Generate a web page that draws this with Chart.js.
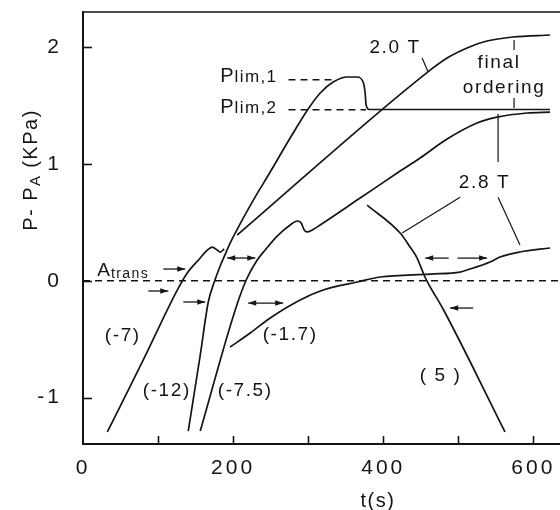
<!DOCTYPE html>
<html><head><meta charset="utf-8">
<script src="https://cdn.jsdelivr.net/npm/chart.js@4.4.1/dist/chart.umd.min.js"></script>
<style>html,body{margin:0;padding:0;background:#fff}canvas{display:block}</style>
</head><body>
<canvas id="c" width="560" height="510"></canvas>
<script>
// ---------- data (t in s, P-PA in kPa) ----------
const xTickValues = [0, 200, 400, 600];
const xTickMarks  = [100, 200, 300, 400, 500, 600];
const yTickValues = [-1, 0, 1, 2];

// (-7)
const rate7T = [32.4, 80.3, 125.6, 138.9, 156.2, 165.5, 172.2, 178.8, 182.8, 188.1];
const rate7P = [-1.294, -0.678, -0.080, 0.066, 0.194, 0.262, 0.288, 0.262, 0.245, 0.271];
// (-12) rising to Plim,1 then dropping to Plim,2
const rate12T = [140.2, 156.2, 166.9, 174.9, 182.8, 190.8, 198.8, 225.4, 249.4, 276.0, 300.0, 316.0, 333.3, 352.0, 365.3, 373.2, 375.9, 377.2, 381.2, 622.2];
const rate12P = [-1.286, -0.636, -0.182, -0.011, 0.126, 0.246, 0.357, 0.673, 0.930, 1.221, 1.469, 1.606, 1.700, 1.743, 1.743, 1.700, 1.606, 1.503, 1.465, 1.465];
// (-7.5) continuing as the 2.8 T curve
const rate75T = [156.2, 202.8, 217.4, 232.1, 242.7, 258.7, 276.0, 285.3, 290.7, 294.7, 298.7, 305.4, 316.0, 369.2, 422.5, 449.1, 485.1, 525.0, 551.7, 591.6, 622.2];
const rate75P = [-1.286, -0.250, 0.006, 0.177, 0.263, 0.382, 0.477, 0.511, 0.494, 0.434, 0.417, 0.434, 0.477, 0.707, 0.938, 1.050, 1.212, 1.349, 1.400, 1.435, 1.443];
// (-1.7)
const rate17T = [196.1, 222.8, 249.4, 289.4, 320.0, 365.3, 395.9, 462.5, 502.4, 511.7, 542.3, 555.6, 582.2, 622.2];
const rate17P = [-0.567, -0.447, -0.319, -0.165, -0.080, -0.011, 0.032, 0.057, 0.074, 0.092, 0.160, 0.203, 0.246, 0.280];
// (5)
const rate5T = [378.6, 422.5, 435.8, 445.1, 454.4, 459.7, 479.7, 562.2];
const rate5P = [0.646, 0.408, 0.288, 0.194, 0.049, -0.020, -0.242, -1.294];
// 2.0 T curve
const field20T = [205.5, 455.8, 485.1, 511.7, 538.3, 572.9, 622.2];
const field20P = [0.391, 1.768, 1.905, 1.991, 2.051, 2.085, 2.102];

// reference (dashed) levels
const zeroLineT = [0, 635.5];        const zeroLineP = [0, 0];
const plim1T = [273.8, 333.0];       const plim1P = [1.72, 1.72];
const plim2T = [273.8, 377.0];       const plim2P = [1.463, 1.463];

// leader lines
const leaderT1 = [451.8, 574.3, 574.3, 553.0, 502.4, 553.0];
const leaderP1 = [1.905, 2.059, 1.563, 1.426, 0.714, 0.714];
const leaderT2 = [459.8, 574.3, 574.3, 553.0, 425.2, 582.2];
const leaderP2 = [1.785, 1.974, 1.477, 1.015, 0.408, 0.305];

// arrows
const arrowT1 = [106.9, 86.9, 133.6, 192.1, 220.1, 455.9, 519.8];
const arrowT2 = [136.2, 113.6, 162.9, 229.6, 266.7, 538.4, 489.1];
const arrowP  = [0.100, -0.088, -0.182, 0.194, -0.191, 0.194, -0.234];
const arrowHeads = ['end', 'end', 'end', 'both', 'both', 'both', 'end'];
const arrowBroken = [false, false, false, false, false, true, false];

// labels
const labelText = ['2.0 T', 'final', 'ordering', '2.8 T', '(-7)', '(-12)', '(-7.5)', '(-1.7)', '( 5 )'];
const labelT = [415.8, 554.3, 561.0, 534.9, 53.0, 111.6, 216.1, 276.0, 476.4];
const labelP = [1.948, 1.820, 1.606, 0.793, -0.516, -0.986, -0.986, -0.507, -0.858];
const subLabelT = [182.8, 182.8, 19.0];
const subLabelP = [1.700, 1.435, 0.040];
const subLabelMain = ['P', 'P', 'A'];
const subLabelSub = ['lim,1', 'lim,2', 'trans'];

// ---------- drawing ----------
const INK = '#151515';
const FONT = '"Liberation Sans", Arial, Helvetica, sans-serif';
const zip = (a, b) => a.map((v, i) => ({x: v, y: b[i]}));

const curve = (t, p) => ({data: zip(t, p), borderColor: INK, borderWidth: 1.7, pointRadius: 0, showLine: true, fill: false, cubicInterpolationMode: 'monotone'});
const dashed = (t, p) => ({data: zip(t, p), borderColor: INK, borderWidth: 1.4, borderDash: [7, 5], pointRadius: 0, showLine: true, fill: false});

const datasets = [
  curve(rate7T, rate7P), curve(rate12T, rate12P), curve(rate75T, rate75P),
  curve(rate17T, rate17P), curve(rate5T, rate5P), curve(field20T, field20P),
  dashed(zeroLineT, zeroLineP), dashed(plim1T, plim1P), dashed(plim2T, plim2P)
];
leaderT1.forEach((t, i) => datasets.push({data: [{x: t, y: leaderP1[i]}, {x: leaderT2[i], y: leaderP2[i]}], borderColor: INK, borderWidth: 1.2, pointRadius: 0, showLine: true, fill: false}));

function drawParts(ctx, parts, x, y, align) {
  let w = 0;
  parts.forEach(p => { ctx.font = p.size + 'px ' + FONT; ctx.letterSpacing = (p.ls || 0) + 'px'; p.w = ctx.measureText(p.s).width; w += p.w; });
  let cx = align === 'center' ? x - w / 2 : x;
  parts.forEach(p => { ctx.font = p.size + 'px ' + FONT; ctx.letterSpacing = (p.ls || 0) + 'px'; ctx.fillText(p.s, cx, y + (p.dy || 0)); cx += p.w; });
  return w;
}

function head(ctx, x, y, dir) {
  ctx.beginPath();
  ctx.moveTo(x, y);
  ctx.lineTo(x - dir * 8, y - 2.8);
  ctx.lineTo(x - dir * 8, y + 2.8);
  ctx.closePath();
  ctx.fill();
}

const annot = {
  id: 'annot',
  beforeLayout(chart) { chart.ctx.letterSpacing = '3px'; },
  beforeDraw(chart) { chart.ctx.letterSpacing = '3px'; },
  afterDraw(chart) {
    const {ctx, chartArea: a, scales: {x, y}} = chart;
    ctx.save();
    ctx.strokeStyle = INK; ctx.fillStyle = INK; ctx.lineCap = 'butt';
    // top frame line
    ctx.lineWidth = 1.6;
    ctx.beginPath(); ctx.moveTo(a.left, a.top); ctx.lineTo(a.right, a.top); ctx.stroke();
    // inward tick marks
    ctx.lineWidth = 1.6;
    xTickMarks.forEach(v => { const px = Math.round(x.getPixelForValue(v)) + 0.5; ctx.beginPath(); ctx.moveTo(px, a.bottom); ctx.lineTo(px, a.bottom - 8); ctx.stroke(); });
    yTickValues.forEach(v => { const py = Math.round(y.getPixelForValue(v)) + 0.5; ctx.beginPath(); ctx.moveTo(a.left, py); ctx.lineTo(a.left + 9, py); ctx.stroke(); });
    // arrows
    ctx.lineWidth = 1.3;
    arrowT1.forEach((t, i) => {
      const x1 = x.getPixelForValue(t), x2 = x.getPixelForValue(arrowT2[i]), py = y.getPixelForValue(arrowP[i]);
      const dir = x2 > x1 ? 1 : -1;
      ctx.beginPath();
      if (arrowBroken[i]) {
        const m1 = x1 + (x2 - x1) * 0.38, m2 = x1 + (x2 - x1) * 0.52;
        ctx.moveTo(x1, py); ctx.lineTo(m1, py); ctx.moveTo(m2, py); ctx.lineTo(x2, py);
      } else { ctx.moveTo(x1, py); ctx.lineTo(x2, py); }
      ctx.stroke();
      head(ctx, x2, py, dir);
      if (arrowHeads[i] === 'both') head(ctx, x1, py, -dir);
    });
    // labels
    ctx.textBaseline = 'alphabetic';
    labelText.forEach((s, i) => {
      drawParts(ctx, [{s, size: 19, ls: 1.6}], x.getPixelForValue(labelT[i]), y.getPixelForValue(labelP[i]), 'center');
    });
    subLabelMain.forEach((s, i) => {
      const isA = s === 'A';
      drawParts(ctx, [
        {s, size: isA ? 19 : 20, ls: 1},
        {s: subLabelSub[i], size: isA ? 14 : 17, ls: 1.4, dy: isA ? 1.5 : 0}
      ], x.getPixelForValue(subLabelT[i]), y.getPixelForValue(subLabelP[i]), 'left');
    });
    // axis titles
    drawParts(ctx, [{s: 't(s)', size: 20, ls: 1.5}], 378, 507, 'center');
    ctx.translate(37, 170);
    ctx.rotate(-Math.PI / 2);
    drawParts(ctx, [{s: 'P- P', size: 20, ls: 1.5}, {s: 'A', size: 15, ls: 1, dy: 3}, {s: ' (KPa)', size: 20, ls: 1.5}], 0, 0, 'center');
    ctx.restore();
  }
};

new Chart(document.getElementById('c').getContext('2d'), {
  type: 'scatter',
  data: {datasets},
  options: {
    responsive: false, animation: false, devicePixelRatio: 1,
    layout: {padding: {top: 12, left: 0, right: 0, bottom: 0}},
    plugins: {legend: {display: false}, tooltip: {enabled: false}},
    scales: {
      x: {
        type: 'linear', min: 0, max: 635.5,
        afterBuildTicks: s => { s.ticks = xTickValues.map(v => ({value: v})); },
        afterFit: s => { s.height = 66; s.paddingLeft = 0; s.paddingRight = 0; },
        grid: {drawOnChartArea: false, drawTicks: false},
        border: {display: true, color: INK, width: 2},
        ticks: {color: INK, font: {family: FONT, size: 21}, padding: 12, maxRotation: 0, autoSkip: false}
      },
      y: {
        type: 'linear', min: -1.397, max: 2.299,
        afterBuildTicks: s => { s.ticks = yTickValues.map(v => ({value: v})); },
        afterFit: s => { s.width = 83; s.paddingTop = 0; s.paddingBottom = 0; },
        grid: {drawOnChartArea: false, drawTicks: false},
        border: {display: true, color: INK, width: 2},
        ticks: {color: INK, font: {family: FONT, size: 21}, padding: 21}
      }
    }
  },
  plugins: [annot]
});
</script>
</body></html>
